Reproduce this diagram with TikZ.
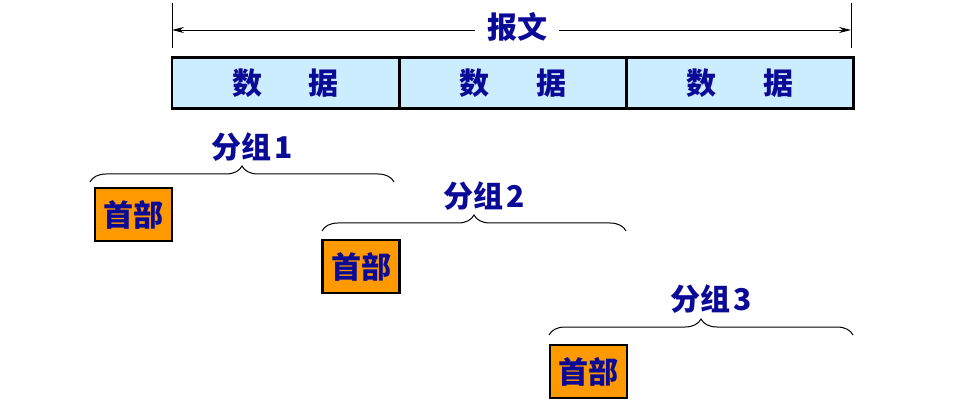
\documentclass[tikz,border=0pt]{standalone}
\usepackage{fontspec}
\newfontfamily\cjk{Noto Sans CJK SC}
\usetikzlibrary{decorations.pathreplacing, arrows.meta}
\definecolor{navy}{RGB}{10,10,150}
\definecolor{databg}{RGB}{204,236,255}
\definecolor{headbg}{RGB}{255,153,0}

\begin{document}
\begin{tikzpicture}[x=1pt, y=-1pt,
	lbl/.style={text=navy, font=\cjk\bfseries\fontsize{30}{30}\selectfont, inner sep=1pt},
	cell/.style={lbl, draw, line width=2.6pt, fill=databg, minimum width=227pt, minimum height=51pt},
	head/.style={lbl, draw, line width=2.8pt, fill=headbg, minimum width=77pt, minimum height=53pt},
	brc/.style={decorate, decoration={brace, amplitude=16pt}, line width=1pt}]
	\useasboundingbox (0, 0) rectangle (960, 419);
	% message with its length
	\coordinate (ml) at (172, 30);
	\coordinate (mr) at (851, 30);
	\draw (172, 3) -- (172, 48);
	\draw (851, 3) -- (851, 48);
	\draw[line width=0.9pt, {Stealth[length=12pt, width=6pt]}-{Stealth[length=12pt, width=6pt]}] (ml) -- (mr);
	\node[lbl, fill=white, inner xsep=12pt] (msg) at (517, 27) {报文};
	% data cells
	\node[cell] (d1) at (285.5, 83) {数\hspace{1.55em}据};
	\node[cell] (d2) at (513, 83) {数\hspace{1.55em}据};
	\node[cell] (d3) at (740, 83) {数\hspace{1.55em}据};
	% packets
	\coordinate (b1l) at (90, 182);
	\coordinate (b1r) at (394, 182);
	\draw[brc] (b1l) -- (b1r);
	\node[lbl] (p1) at (252, 147) {分组\hspace{0.12em}1};
	\node[head] (h1) at (133.5, 214.5) {首部};
	\coordinate (b2l) at (322, 231);
	\coordinate (b2r) at (626, 231);
	\draw[brc] (b2l) -- (b2r);
	\node[lbl] (p2) at (484, 196) {分组\hspace{0.12em}2};
	\node[head] (h2) at (361, 266.5) {首部};
	\coordinate (b3l) at (549, 335);
	\coordinate (b3r) at (853, 335);
	\draw[brc] (b3l) -- (b3r);
	\node[lbl] (p3) at (711, 299) {分组\hspace{0.12em}3};
	\node[head] (h3) at (588.5, 371.5) {首部};
\end{tikzpicture}
\end{document}
